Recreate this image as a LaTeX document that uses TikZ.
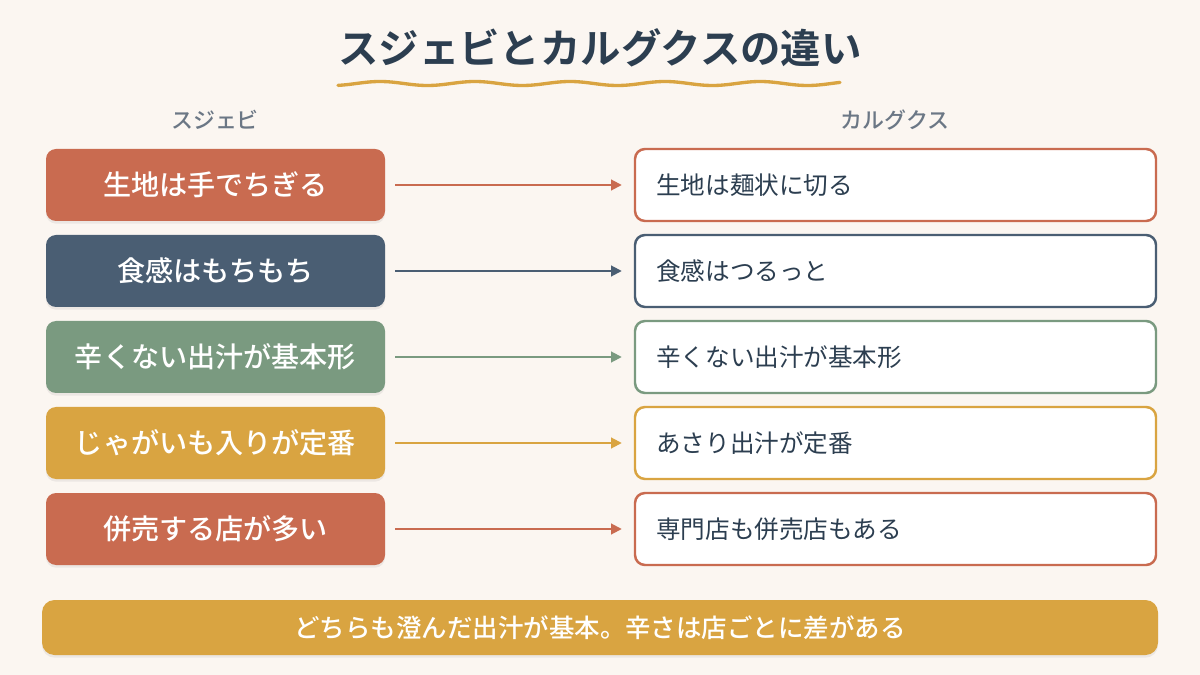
\documentclass[tikz,border=0pt]{standalone}
\usepackage{fontspec}
\setmainfont{Noto Sans CJK JP}[BoldFont={Noto Sans CJK JP Medium}]
\newfontfamily\titlefont{Noto Sans CJK JP Bold}
\usetikzlibrary{shadows,arrows.meta}

\definecolor{bgcream}{HTML}{FBF6F1}
\definecolor{inkdark}{HTML}{2C3E50}
\definecolor{headgray}{HTML}{6B7785}
\definecolor{terra}{HTML}{C96B50}
\definecolor{slate}{HTML}{4A5E73}
\definecolor{sage}{HTML}{7A9A80}
\definecolor{mustard}{HTML}{D9A441}

\begin{document}
\begin{tikzpicture}[x=0.02cm,y=-0.02cm,
    leftbox/.style={fill=#1,rounded corners=0.2cm,minimum width=339*0.02cm,minimum height=72*0.02cm,
        text=white,font=\bfseries\fontsize{16}{18}\selectfont,inner sep=0pt,
        drop shadow={opacity=0.12,shadow xshift=0pt,shadow yshift=-1.5pt}},
    rightbox/.style={draw=#1,line width=1.4pt,fill=white,rounded corners=0.2cm,minimum width=521*0.02cm,
        minimum height=72*0.02cm,inner sep=0pt},
    righttext/.style={anchor=west,text=inkdark,font=\fontsize{14}{16}\selectfont},
    linkarrow/.style={draw=#1,line width=1.1pt,-{Triangle[length=6pt,width=6pt]}},
    colhead/.style={text=headgray,font=\bfseries\fontsize{12.5}{14}\selectfont}]
    \useasboundingbox[fill=bgcream] (0,0) rectangle (1200,675);

    % title
    \node[text=inkdark,font=\titlefont\fontsize{23}{27}\selectfont] (title) at (600,48) {スジェビとカルグクスの違い};
    \draw[mustard,line width=1.9pt,line cap=round] plot[domain=338:840,samples=160,smooth] (\x,{83.5-2*cos((\x-380)/95*360)});

    % column headings
    \node[colhead] (headL) at (215,120) {スジェビ};
    \node[colhead] (headR) at (895,120) {カルグクス};

    % left boxes
    \node[leftbox=terra] (l1) at (215.5,185) {生地は手でちぎる};
    \node[leftbox=slate] (l2) at (215.5,271) {食感はもちもち};
    \node[leftbox=sage] (l3) at (215.5,357) {辛くない出汁が基本形};
    \node[leftbox=mustard] (l4) at (215.5,443) {じゃがいも入りが定番};
    \node[leftbox=terra] (l5) at (215.5,529) {併売する店が多い};

    % right boxes
    \node[rightbox=terra] (r1) at (895.5,185) {};
    \node[rightbox=slate] (r2) at (895.5,271) {};
    \node[rightbox=sage] (r3) at (895.5,357) {};
    \node[rightbox=mustard] (r4) at (895.5,443) {};
    \node[rightbox=terra] (r5) at (895.5,529) {};
    \node[righttext] (t1) at (650,185) {生地は麺状に切る};
    \node[righttext] (t2) at (650,271) {食感はつるっと};
    \node[righttext] (t3) at (650,357) {辛くない出汁が基本形};
    \node[righttext] (t4) at (650,443) {あさり出汁が定番};
    \node[righttext] (t5) at (650,529) {専門店も併売店もある};

    % arrows
    \draw[linkarrow=terra] ([xshift=10*0.02cm]l1.east) -- ([xshift=-12*0.02cm]r1.west);
    \draw[linkarrow=slate] ([xshift=10*0.02cm]l2.east) -- ([xshift=-12*0.02cm]r2.west);
    \draw[linkarrow=sage] ([xshift=10*0.02cm]l3.east) -- ([xshift=-12*0.02cm]r3.west);
    \draw[linkarrow=mustard] ([xshift=10*0.02cm]l4.east) -- ([xshift=-12*0.02cm]r4.west);
    \draw[linkarrow=terra] ([xshift=10*0.02cm]l5.east) -- ([xshift=-12*0.02cm]r5.west);

    % summary banner
    \node[fill=mustard,rounded corners=0.25cm,minimum width=1116*0.02cm,minimum height=55*0.02cm,
        text=white,font=\bfseries\fontsize{14.5}{16}\selectfont,inner sep=0pt,
        drop shadow={opacity=0.12,shadow xshift=0pt,shadow yshift=-1.5pt}] (summary) at (600,627.5)
        {どちらも澄んだ出汁が基本。辛さは店ごとに差がある};
\end{tikzpicture}
\end{document}
